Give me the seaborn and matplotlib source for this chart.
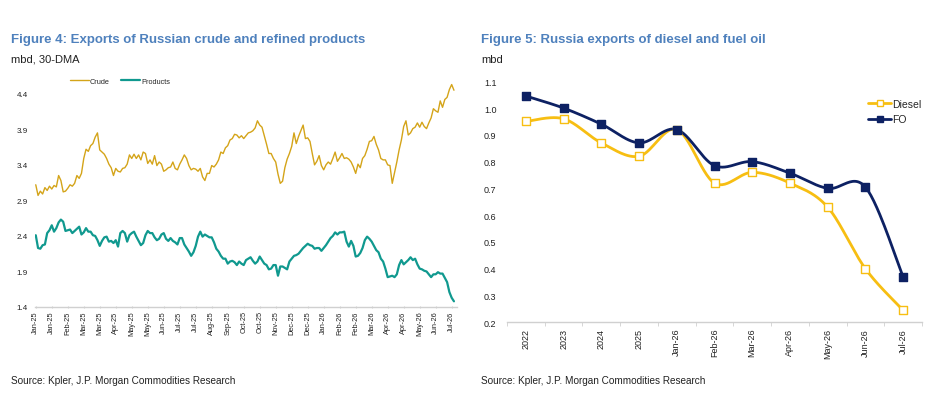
import numpy as np
import pandas as pd
import matplotlib
matplotlib.use('Agg')
import matplotlib.pyplot as plt
from matplotlib.lines import Line2D
import seaborn as sns

# Figure 4: 30-DMA exports, read every 3 days from 1 Jan 2025
crude = [3.12, 2.97, 3.03, 2.99, 3.08, 3.04, 3.10, 3.06, 3.11, 3.09,
         3.25, 3.18, 3.02, 3.03, 3.07, 3.12, 3.10, 3.14, 3.25, 3.21,
         3.28, 3.49, 3.62, 3.59, 3.67, 3.70, 3.79, 3.85, 3.61, 3.58,
         3.55, 3.49, 3.41, 3.36, 3.25, 3.35, 3.31, 3.30, 3.35, 3.36,
         3.41, 3.54, 3.49, 3.55, 3.49, 3.54, 3.47, 3.58, 3.56, 3.42,
         3.47, 3.41, 3.53, 3.39, 3.44, 3.41, 3.31, 3.33, 3.36, 3.37,
         3.44, 3.35, 3.33, 3.41, 3.47, 3.54, 3.49, 3.39, 3.33, 3.35,
         3.34, 3.31, 3.35, 3.23, 3.18, 3.28, 3.28, 3.39, 3.37, 3.41,
         3.47, 3.58, 3.56, 3.64, 3.67, 3.75, 3.77, 3.83, 3.82, 3.78,
         3.81, 3.77, 3.81, 3.85, 3.86, 3.88, 3.92, 4.02, 3.96, 3.93,
         3.81, 3.69, 3.56, 3.56, 3.49, 3.44, 3.27, 3.14, 3.17, 3.36,
         3.48, 3.56, 3.66, 3.85, 3.70, 3.80, 3.88, 3.96, 3.77, 3.78,
         3.73, 3.56, 3.40, 3.45, 3.53, 3.39, 3.33, 3.40, 3.44, 3.41,
         3.49, 3.58, 3.45, 3.50, 3.56, 3.49, 3.50, 3.48, 3.44, 3.37,
         3.28, 3.41, 3.36, 3.49, 3.53, 3.62, 3.73, 3.74, 3.80, 3.69,
         3.61, 3.49, 3.47, 3.47, 3.40, 3.39, 3.14, 3.29, 3.44, 3.61,
         3.75, 3.94, 4.02, 3.82, 3.85, 3.91, 3.93, 3.99, 3.93, 4.00,
         3.94, 3.91, 3.99, 4.06, 4.19, 4.16, 4.14, 4.30, 4.21, 4.32,
         4.35, 4.46, 4.53, 4.45]
products = [2.41, 2.23, 2.22, 2.27, 2.28, 2.44, 2.48, 2.55, 2.46, 2.51,
            2.59, 2.63, 2.60, 2.47, 2.48, 2.49, 2.44, 2.47, 2.50, 2.53,
            2.42, 2.45, 2.51, 2.46, 2.46, 2.41, 2.40, 2.34, 2.26, 2.33,
            2.38, 2.39, 2.32, 2.33, 2.30, 2.34, 2.25, 2.44, 2.47, 2.44,
            2.32, 2.41, 2.44, 2.46, 2.39, 2.33, 2.27, 2.30, 2.41, 2.47,
            2.44, 2.44, 2.38, 2.34, 2.36, 2.42, 2.44, 2.36, 2.33, 2.37,
            2.33, 2.31, 2.28, 2.37, 2.37, 2.28, 2.23, 2.18, 2.12, 2.17,
            2.26, 2.39, 2.46, 2.39, 2.42, 2.40, 2.38, 2.38, 2.31, 2.22,
            2.18, 2.12, 2.08, 2.08, 2.01, 2.04, 2.05, 2.03, 1.99, 2.04,
            2.01, 1.99, 2.06, 2.08, 2.10, 2.05, 2.01, 2.04, 2.11, 2.06,
            2.01, 1.99, 1.93, 1.94, 1.99, 1.99, 1.84, 1.97, 1.97, 1.95,
            1.93, 2.04, 2.08, 2.12, 2.13, 2.15, 2.19, 2.23, 2.26, 2.29,
            2.27, 2.26, 2.22, 2.23, 2.23, 2.19, 2.23, 2.27, 2.32, 2.37,
            2.40, 2.45, 2.42, 2.45, 2.45, 2.46, 2.32, 2.25, 2.33, 2.26,
            2.11, 2.12, 2.16, 2.23, 2.34, 2.39, 2.36, 2.32, 2.26, 2.20,
            2.17, 2.08, 2.04, 1.94, 1.82, 1.83, 1.84, 1.82, 1.86, 1.99,
            2.06, 2.00, 2.03, 2.06, 2.10, 2.06, 2.08, 2.00, 1.94, 1.93,
            1.91, 1.90, 1.86, 1.82, 1.86, 1.86, 1.89, 1.87, 1.87, 1.81,
            1.75, 1.61, 1.53, 1.48]
left_yticks = [1.4, 1.9, 2.4, 2.9, 3.4, 3.9, 4.4]

# Figure 5: diesel and fuel oil exports
periods = ['2022', '2023', '2024', '2025', 'Jan-26', 'Feb-26', 'Mar-26',
           'Apr-26', 'May-26', 'Jun-26', 'Jul-26']
diesel = [0.95, 0.96, 0.87, 0.82, 0.92, 0.72, 0.76, 0.72, 0.63, 0.40, 0.245]
fuel_oil = [1.045, 1.00, 0.94, 0.87, 0.92, 0.785, 0.80, 0.757, 0.70, 0.705, 0.37]
right_yticks = [0.2, 0.3, 0.4, 0.5, 0.6, 0.7, 0.8, 0.9, 1.0, 1.1]

TITLE_BLUE = '#4F81BD'
CRUDE_COL = '#D4A419'
PROD_COL = '#10998F'
DIESEL_COL = '#F7BE12'
FO_COL = '#0D2163'
GREY = '#D0D0D0'
TEXT = '#222222'


def smooth_curve(xs, ys, n=30):
    # Catmull-Rom curve through the points, like Excel's smoothed lines
    pts = np.column_stack([xs, ys]).astype(float)
    ext = np.vstack([pts[0], pts, pts[-1]])
    t = np.linspace(0, 1, n)[:, None]
    segs = []
    for i in range(len(pts) - 1):
        p0, p1, p2, p3 = ext[i], ext[i + 1], ext[i + 2], ext[i + 3]
        seg = 0.5 * (2 * p1 + (p2 - p0) * t
                     + (2 * p0 - 5 * p1 + 4 * p2 - p3) * t ** 2
                     + (3 * p1 - p0 - 3 * p2 + p3) * t ** 3)
        segs.append(seg)
    out = np.vstack(segs)
    return out[:, 0], out[:, 1]


sns.set_style('white')
plt.rcParams['font.family'] = ['Liberation Sans', 'DejaVu Sans']

fig = plt.figure(figsize=(9.43, 4.14), dpi=100)

fig.text(11 / 943, 1 - 40 / 414, 'Figure 4: Exports of Russian crude and refined products',
         fontsize=9.5, fontweight='bold', color=TITLE_BLUE, va='center')
fig.text(11 / 943, 1 - 60 / 414, 'mbd, 30-DMA', fontsize=8, color=TEXT, va='center')
fig.text(481 / 943, 1 - 40 / 414, 'Figure 5: Russia exports of diesel and fuel oil',
         fontsize=9.5, fontweight='bold', color=TITLE_BLUE, va='center')
fig.text(481 / 943, 1 - 60 / 414, 'mbd', fontsize=8, color=TEXT, va='center')
fig.text(11 / 943, 1 - 381 / 414, 'Source: Kpler, J.P. Morgan Commodities Research',
         fontsize=7.2, color=TEXT, va='center')
fig.text(481 / 943, 1 - 381 / 414, 'Source: Kpler, J.P. Morgan Commodities Research',
         fontsize=7.2, color=TEXT, va='center')

# ---- left chart ----
ax1 = fig.add_axes([35 / 943, 1 - 308 / 414, 422 / 943, 226 / 414])
dates = pd.date_range('2025-01-01', periods=len(crude), freq='3D')
df_left = pd.DataFrame({'date': dates, 'Crude': crude, 'Products': products})
df_left = df_left.melt(id_vars='date', var_name='series', value_name='mbd')
sns.lineplot(data=df_left[df_left['series'] == 'Crude'], x='date', y='mbd',
             color=CRUDE_COL, linewidth=1.0, ax=ax1, legend=False)
sns.lineplot(data=df_left[df_left['series'] == 'Products'], x='date', y='mbd',
             color=PROD_COL, linewidth=1.6, ax=ax1, legend=False)

tick_dates = pd.date_range('2025-01-01', '2026-07-01', freq='21D')
ax1.set_xticks(tick_dates)
ax1.set_xticklabels([d.strftime('%b-%y') for d in tick_dates], rotation=90, fontsize=5.3)
ax1.set_xlim(pd.Timestamp('2024-12-31'), pd.Timestamp('2026-07-08'))
ax1.set_yticks(left_yticks)
ax1.set_yticklabels([f'{v:.1f}' for v in left_yticks], fontsize=5.8)
ax1.set_ylim(1.4, 4.58)
ax1.set_xlabel('')
ax1.set_ylabel('')
for side in ['top', 'right', 'left']:
    ax1.spines[side].set_visible(False)
ax1.spines['bottom'].set_color(GREY)
ax1.spines['bottom'].set_linewidth(1.0)
ax1.tick_params(axis='x', bottom=True, length=2, direction='inout', color=GREY,
                pad=1.5, labelcolor=TEXT)
ax1.tick_params(axis='y', left=False, length=0, pad=5, labelcolor=TEXT)

left_handles = [Line2D([0], [0], color=CRUDE_COL, lw=1.0),
                Line2D([0], [0], color=PROD_COL, lw=1.6)]
ax1.legend(left_handles, ['Crude', 'Products'], loc='center left',
           bbox_to_anchor=(28 / 422, 1.0), ncol=2, frameon=False, fontsize=5.3,
           handlelength=2.6, handletextpad=0.1, columnspacing=1.6)

# ---- right chart ----
ax2 = fig.add_axes([507 / 943, 1 - 323.3 / 414, 415 / 943, 241 / 414])
xpos = np.arange(len(periods))
sx, sd = smooth_curve(xpos, diesel)
_, sf = smooth_curve(xpos, fuel_oil)
sns.lineplot(x=sx, y=sd, sort=False, color=DIESEL_COL, linewidth=2.0, ax=ax2)
sns.lineplot(x=sx, y=sf, sort=False, color=FO_COL, linewidth=2.0, ax=ax2)
sns.scatterplot(x=xpos, y=diesel, marker='s', s=30, color='white',
                edgecolor=DIESEL_COL, linewidth=1.0, zorder=4, ax=ax2)
sns.scatterplot(x=xpos, y=fuel_oil, marker='s', s=30, color=FO_COL,
                edgecolor=FO_COL, linewidth=1.0, zorder=4, ax=ax2)

ax2.set_xlim(-0.5, len(periods) - 0.5)
ax2.set_ylim(0.2, 1.1)
ax2.set_xticks(xpos)
ax2.set_xticklabels(periods, rotation=90, fontsize=6.5)
ax2.set_xticks(np.arange(-0.5, len(periods)), minor=True)
ax2.set_yticks(right_yticks)
ax2.set_yticklabels([f'{v:.1f}' for v in right_yticks], fontsize=6.5)
for side in ['top', 'right', 'left']:
    ax2.spines[side].set_visible(False)
ax2.spines['bottom'].set_color(GREY)
ax2.spines['bottom'].set_linewidth(1.0)
ax2.tick_params(axis='x', which='major', bottom=False, length=0, pad=4, labelcolor=TEXT)
ax2.tick_params(axis='x', which='minor', bottom=True, length=3, color=GREY)
ax2.tick_params(axis='y', left=False, length=0, pad=7.5, labelcolor=TEXT)
ax2.set_xlabel('')
ax2.set_ylabel('')

right_handles = [Line2D([0], [0], color=DIESEL_COL, lw=2.0, marker='s', markersize=5,
                        markerfacecolor='white', markeredgecolor=DIESEL_COL),
                 Line2D([0], [0], color=FO_COL, lw=2.0, marker='s', markersize=5,
                        markerfacecolor=FO_COL, markeredgecolor=FO_COL)]
ax2.legend(right_handles, ['Diesel', 'FO'], loc='upper left',
           bbox_to_anchor=(352 / 415, 0.965), frameon=False, fontsize=7.5,
           handlelength=2.2, handletextpad=0.1, labelspacing=0.5)

fig.savefig('out.png', dpi=100)
plt.close(fig)
